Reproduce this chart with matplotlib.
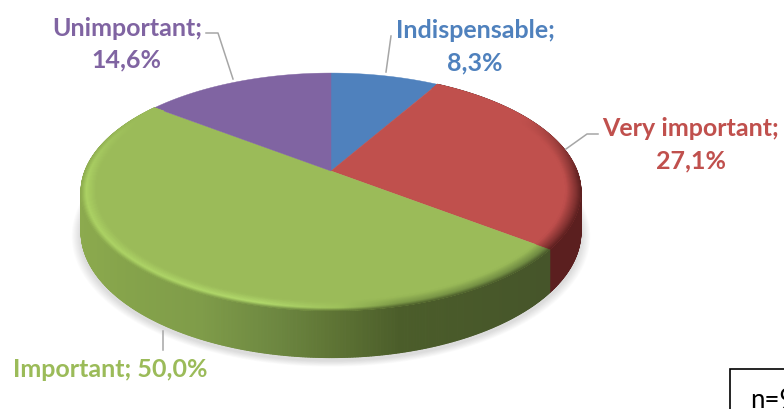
#!/usr/bin/env python3
"""Perspective 3D pie of importance ratings, drawn from flat patches."""

from __future__ import annotations

import matplotlib

matplotlib.use("Agg")
import matplotlib.pyplot as plt
import numpy as np
from matplotlib.collections import PolyCollection
from matplotlib.colors import to_rgb
from matplotlib.patches import Polygon, Rectangle

CATEGORIES = ["Indispensable", "Very important", "Important", "Unimportant"]
SHARES = [8.3, 27.1, 50.0, 14.6]
VALUE_LABELS = ["8,3%", "27,1%", "50,0%", "14,6%"]
SAMPLE_LABEL = "n=96"

COLORS = ["#4F81BD", "#C0504D", "#9BBB59", "#8064A2"]
LEADER = "#A6A6A6"

# pie geometry in pixels
CX, CY = 331.0, 172.0
RX, RY = 246.0, 115.2
TILT = 0.176
DEPTH = 38.5

GREEN_X = [80, 120, 200, 280, 330, 400, 545]
GREEN_SIDE = ["#8CAA4E", "#86A44B", "#7F9C49", "#6C8640", "#5F7535", "#4B5D2A", "#46552A"]
GREEN_RIM_X = [80, 260, 340, 400, 545]
GREEN_RIM = ["#ACD264", "#B2DA6C", "#9FC25C", "#7D9A48", "#6F8A42"]
RED_SIDE = "#5B1F1F"


def project(theta, scale=1.0):
    """Angle clockwise from 12 o'clock on the unit disc to pixel position."""
    u = scale * np.sin(theta)
    v = scale * np.cos(theta)
    w = 1 + TILT * v
    return CX + RX * u / w, CY - RY * v / w


def depth_at(theta):
    return DEPTH / (1 + TILT * np.cos(theta))


def ramp(x, xs, colors):
    rgb = np.array([to_rgb(c) for c in colors])
    return np.column_stack([np.interp(x, xs, rgb[:, i]) for i in range(3)])


def main() -> None:
    plt.rcParams["font.family"] = ["Lato", "DejaVu Sans"]
    fig = plt.figure(figsize=(7.84, 4.10), dpi=100)
    ax = fig.add_axes((0, 0, 1, 1))
    ax.set_xlim(0, 784)
    ax.set_ylim(410, 0)
    ax.axis("off")

    edges = 2 * np.pi * np.cumsum([0] + SHARES) / 100
    red_start, red_end = edges[1], edges[2]
    green_end = edges[3]

    # soft shadow under the pie
    ring = np.linspace(0, 2 * np.pi, 240)
    for spread in np.linspace(9, 1, 9):
        sx, sy = project(ring, 1 + spread / 250)
        ax.add_patch(Polygon(np.column_stack([sx, sy + depth_at(ring) + 3]),
                             facecolor="#808080", alpha=0.03, edgecolor="none"))

    # side wall, strip by strip
    t = np.linspace(red_start, green_end, 900)
    x0, y0 = project(t[:-1])
    x1, y1 = project(t[1:])
    strips = np.stack([
        np.column_stack([x0, y0]),
        np.column_stack([x1, y1]),
        np.column_stack([x1, y1 + depth_at(t[1:])]),
        np.column_stack([x0, y0 + depth_at(t[:-1])]),
    ], axis=1)
    mid = (t[:-1] + t[1:]) / 2
    side = ramp((x0 + x1) / 2, GREEN_X, GREEN_SIDE)
    side[mid < red_end] = to_rgb(RED_SIDE)
    ax.add_collection(PolyCollection(strips, facecolors=side, edgecolors=side, linewidths=0.8))

    # flat top
    for start, end, color in zip(edges[:-1], edges[1:], COLORS):
        a = np.linspace(start, end, 160)
        px, py = project(a)
        pts = np.vstack([[CX, CY], np.column_stack([px, py])])
        ax.add_patch(Polygon(pts, facecolor=color, edgecolor=color, linewidth=0.3))

    # bevel along the rim of the red and green slices
    scales = np.linspace(1.0, 0.94, 16)
    polys, cols = [], []
    a = np.linspace(red_start, green_end, 800)
    a0, a1 = a[:-1], a[1:]
    am = (a0 + a1) / 2
    mx, _ = project(am)
    is_red = am < red_end
    top = np.where(is_red[:, None], np.array(to_rgb(COLORS[1]))[None], np.array(to_rgb(COLORS[2]))[None])
    edge = ramp(mx, GREEN_X, GREEN_SIDE)
    edge[is_red] = to_rgb(RED_SIDE)
    peak = ramp(mx, GREEN_RIM_X, GREEN_RIM)
    peak[is_red] = np.array(to_rgb(RED_SIDE)) * 0.6 + np.array(to_rgb(COLORS[1])) * 0.4
    strength = np.clip((0.5 - np.cos(am)) / 0.55, 0, 1)[:, None]
    for s0, s1 in zip(scales[:-1], scales[1:]):
        f = (1 - (s0 + s1) / 2) / 0.06
        if f < 0.35:
            c = edge + (peak - edge) * (f / 0.35)
        else:
            c = peak + (top - peak) * ((f - 0.35) / 0.65)
        c = top + (c - top) * strength
        xa, ya = project(a0, s0)
        xb, yb = project(a1, s0)
        xc, yc = project(a1, s1)
        xd, yd = project(a0, s1)
        polys.append(np.stack([np.column_stack([xa, ya]), np.column_stack([xb, yb]),
                               np.column_stack([xc, yc]), np.column_stack([xd, yd])], axis=1))
        cols.append(c)
    ax.add_collection(PolyCollection(np.concatenate(polys), facecolors=np.concatenate(cols),
                                     edgecolors=np.concatenate(cols), linewidths=0.4))

    # leaders
    ax.plot([206, 218, 233], [34, 34, 80], color=LEADER, lw=1.1)
    ax.plot([391, 386], [37, 73], color=LEADER, lw=1.1)
    ax.plot([598, 587, 566], [135, 135, 150], color=LEADER, lw=1.1)
    ax.plot([163, 163], [332, 351], color=LEADER, lw=1.1)

    # labels
    style = dict(ha="center", va="center", fontsize=18.0, fontweight="bold")
    ax.text(475, 30, f"{CATEGORIES[0]};", color=COLORS[0], **style)
    ax.text(475, 63, VALUE_LABELS[0], color=COLORS[0], **style)
    ax.text(691, 128.5, f"{CATEGORIES[1]};", color=COLORS[1], **style)
    ax.text(691, 161, VALUE_LABELS[1], color=COLORS[1], **style)
    ax.text(110, 370, f"{CATEGORIES[2]}; {VALUE_LABELS[2]}", color=COLORS[2], **style)
    ax.text(127, 28.5, f"{CATEGORIES[3]};", color=COLORS[3], **style)
    ax.text(126, 60, VALUE_LABELS[3], color=COLORS[3], **style)

    # sample size box, cut off by the picture edge
    ax.add_patch(Rectangle((730, 370), 90, 60, facecolor="white", edgecolor="black", lw=1.2))
    ax.text(750, 408, SAMPLE_LABEL, ha="left", va="baseline", fontsize=18.5, color="black")

    fig.savefig("out.png", dpi=100)
    plt.close(fig)


if __name__ == "__main__":
    main()
